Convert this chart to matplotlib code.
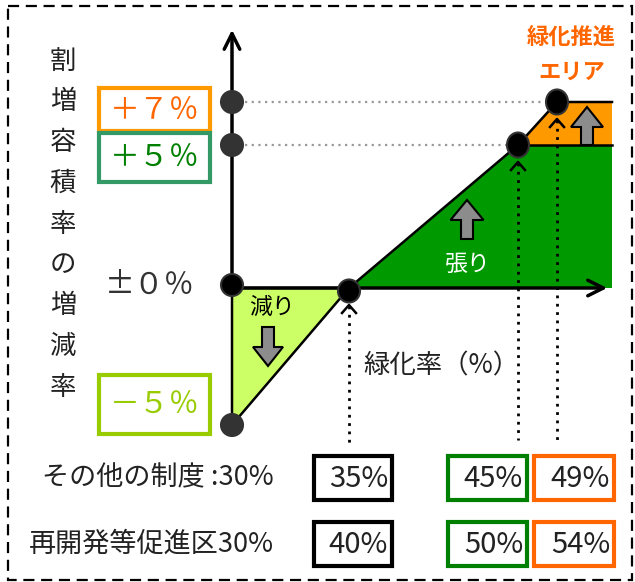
import numpy as np
import matplotlib
matplotlib.use("Agg")
import matplotlib.pyplot as plt
from matplotlib import patches

plt.rcParams['font.family'] = ['Noto Sans CJK JP', 'DejaVu Sans']

# data
change_levels = [7, 5, 0, -5]                      # 割増容積率の増減率 (%)
change_labels = ['＋７％', '＋５％', '±０％', '－５％']
rate_other = [35, 45, 49]                          # その他の制度
rate_redev = [40, 50, 54]                          # 再開発等促進区
base_labels = ['その他の制度 :30%', '再開発等促進区30%']
y_title = '割増容積率の増減率'
x_title = '緑化率（%）'

# schematic scales (the drawing is not to scale)
def px_y(v):
    return np.interp(v, [-5, 0, 5, 7], [425, 288, 145, 102])

def px_x(r):
    return np.interp(r, [30, 35, 45, 49], [232, 349, 518, 557])

x0, x_end = px_x(30), 612
y_top, y0 = 27, px_y(0)

fig = plt.figure(figsize=(6.35, 5.82), dpi=100)
ax = fig.add_axes([0, 0, 1, 1])
ax.set_xlim(0, 635)
ax.set_ylim(582, 0)
ax.axis('off')

# outer dashed frame
ax.add_patch(patches.Rectangle((8, 6), 624, 574, fill=False, ec='black',
                               lw=1.6, ls=(0, (5, 3))))

# regions
p_zero, p_five, p_seven = px_x(rate_other[0]), px_x(rate_other[1]), px_x(rate_other[2])
ax.add_patch(patches.Polygon([(x0, y0), (p_zero, y0), (x0, px_y(-5))],
                             closed=True, fc='#ccff66', ec='black', lw=1.8, zorder=2))
ax.add_patch(patches.Polygon([(p_zero, y0), (p_five, px_y(5)), (x_end, px_y(5)), (x_end, y0)],
                             closed=True, fc='#009900', ec='none', zorder=2))
ax.add_patch(patches.Polygon([(p_five, px_y(5)), (p_seven, px_y(7)), (x_end, px_y(7)), (x_end, px_y(5))],
                             closed=True, fc='#ff9900', ec='none', zorder=2))
ax.plot([p_zero, p_five, p_seven, x_end], [y0, px_y(5), px_y(7), px_y(7)], color='black', lw=1.8, zorder=3)
ax.plot([p_five, x_end], [px_y(5), px_y(5)], color='black', lw=1.8, zorder=3)

# axes with open arrowheads
ax.annotate('', xy=(x0, y_top), xytext=(x0, y0),
            arrowprops=dict(arrowstyle='->', lw=2.5, color='black', mutation_scale=28), zorder=4)
ax.annotate('', xy=(x_end - 2, y0), xytext=(x0, y0),
            arrowprops=dict(arrowstyle='->', lw=2.5, color='black', mutation_scale=28), zorder=4)

# dotted guides
for v, r in [(7, rate_other[2]), (5, rate_other[1])]:
    ax.plot([x0 + 13, px_x(r) - 8], [px_y(v), px_y(v)], color='#999999', lw=1.6, ls=(0, (1, 2)), zorder=1)

for r, v, bottom in zip(rate_other, [0, 5, 7], [445, 440, 444]):
    xp = px_x(r)
    tip = px_y(v) + 17
    ax.plot([xp, xp], [tip + 1, bottom], color='black', lw=2, ls=(0, (1, 2)), zorder=3)
    ax.plot([xp - 7, xp, xp + 7], [tip + 8, tip, tip + 8], color='black', lw=1.8, zorder=3)

# markers on the y axis
for v in change_levels:
    fc = 'black' if v == 0 else '#333333'
    ax.add_patch(patches.Circle((x0, px_y(v) - (3 if v == 0 else 0)), 11, fc=fc, ec='#333333', lw=1.5, zorder=5))

# break points on the curve
for r, v in zip(rate_other, [0, 5, 7]):
    ax.add_patch(patches.Ellipse((px_x(r), px_y(v) + (3 if v == 0 else 0)), 22, 25 if v else 23,
                                 fc='black', ec='#333333', lw=1.5, zorder=5))

# block arrows
arr = dict(fc='#8c8c8c', ec='black', lw=1.5, length_includes_head=True, zorder=4)
ax.add_patch(patches.FancyArrow(467, 239, 0, -39, width=12, head_width=33, head_length=20, **arr))
ax.add_patch(patches.FancyArrow(587, 145, 0, -38, width=12, head_width=32, head_length=20, **arr))
ax.add_patch(patches.FancyArrow(268, 327, 0, 39, width=12, head_width=30, head_length=19, **arr))

ax.text(468, 264, '張り', color='white', fontsize=16.5, ha='center', va='center', zorder=6)
ax.text(272, 307, '減り', color='black', fontsize=16.5, ha='center', va='center', zorder=6)
ax.text(571, 37, '緑化推進', color='#ff6600', fontsize=16, fontweight='bold', ha='center', va='center')
ax.text(572, 72, 'エリア', color='#ff6600', fontsize=16, fontweight='bold', ha='center', va='center')
ax.text(441, 366, x_title, color='#222222', fontsize=19, ha='center', va='center')

# vertical y title
for i, ch in enumerate(y_title):
    ax.text(63, 61 + i * 40.8, ch, color='#222222', fontsize=19, ha='center', va='center')

# level labels
box_style = {7: ('#ff9900', '#ff6600', 87, 132),
             5: ('#339966', '#008000', 132, 183),
             -5: ('#99cc00', '#99cc00', 374, 435)}
for v, lab in zip(change_levels, change_labels):
    if v == 0:
        ax.text(150, 285, lab, color='#333333', fontsize=21.5, ha='center', va='center')
        continue
    ec, tc, top, bot = box_style[v]
    ax.add_patch(patches.Rectangle((99, top + 1), 111, bot - top - 2, fill=False, ec=ec, lw=3, zorder=4))
    ax.text(155, (top + bot) / 2 + 1, lab, color=tc, fontsize=21.5, ha='center', va='center')

# bottom rows
for row, (lab, rates) in enumerate(zip(base_labels, [rate_other, rate_redev])):
    yc = 478 + row * 66
    ax.text(274, yc, lab, color='#222222', fontsize=19.5, ha='right', va='center')
    for (left, right), ec, r in zip([(313, 393), (447, 528), (533, 615)],
                                    ['black', '#008000', '#ff6600'], rates):
        ax.add_patch(patches.Rectangle((left + 1, yc - 22), right - left - 2, 44,
                                       fill=False, ec=ec, lw=3))
        ax.text(right - 5, yc + 1, f'{r}%', color='#222222', fontsize=21, ha='right', va='center')

fig.savefig('out.png', dpi=100)
